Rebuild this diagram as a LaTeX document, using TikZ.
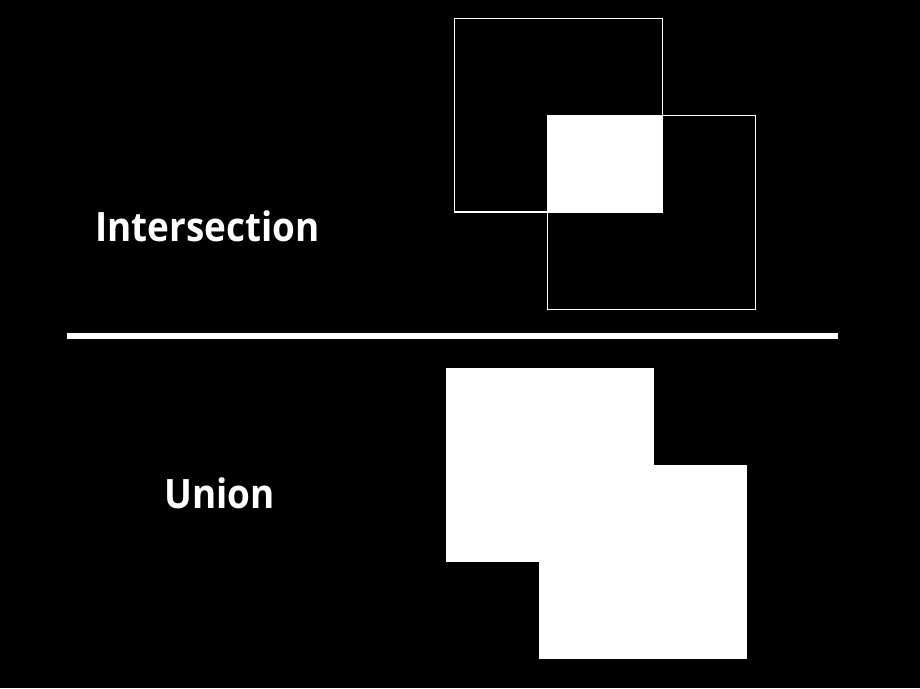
\documentclass[tikz,border=0pt]{standalone}
\usepackage{fontspec}
\setmainfont{Open Sans}
\begin{document}
\begin{tikzpicture}[x=1pt,y=-1pt,
  outl/.style={draw=white,line width=1.2pt},
  lbl/.style={text=white,font=\bfseries\fontsize{40.5}{44}\selectfont,anchor=base,inner sep=0pt,xscale=0.91}]
\fill[black] (0,0) rectangle (920,688);
\useasboundingbox (0,0) rectangle (920,688);
% intersection
\fill[white] (547.3,115.3) rectangle (662.3,212);
\draw[outl] (454.3,18.3) rectangle (662.3,212);
\draw[outl] (547.3,115.3) rectangle (755.3,309.3);
\node[lbl] (inter) at (207.5,241.5) {Intersection};
% divider
\coordinate (dl) at (67,336);
\coordinate (dr) at (838,336);
\draw[white,line width=6pt] (dl) -- (dr);
% union
\fill[white] (446,368) rectangle (654,561.5);
\fill[white] (539,465) rectangle (747,658.5);
\node[lbl] (uni) at (219.5,508) {Union};
\end{tikzpicture}
\end{document}
